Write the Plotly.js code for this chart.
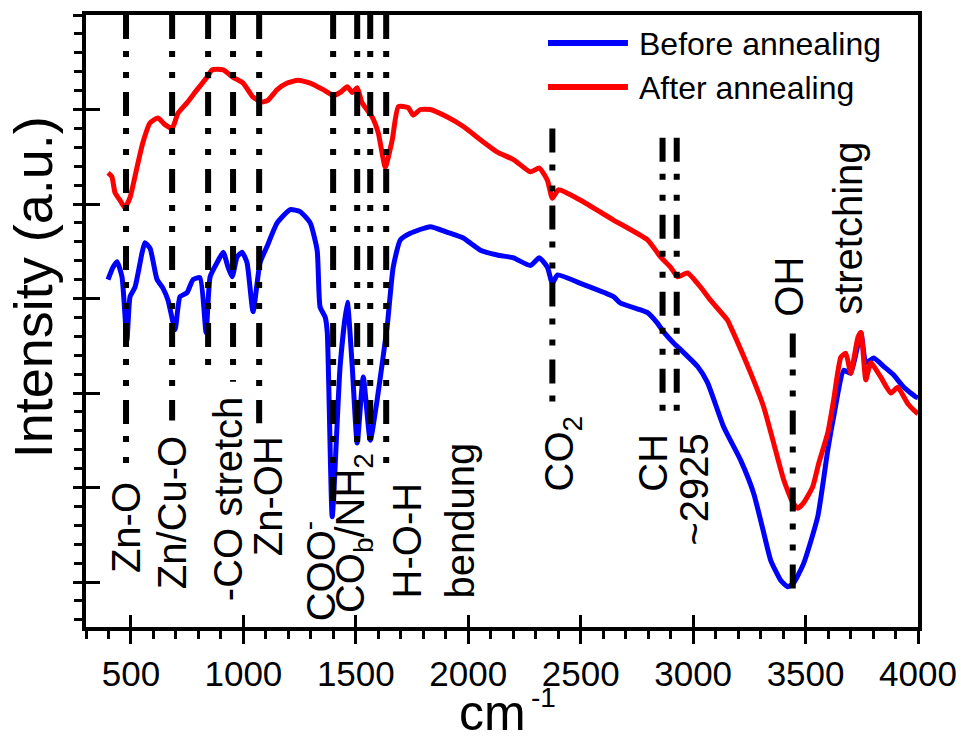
<!DOCTYPE html>
<html>
<head>
<meta charset="utf-8">
<script src="https://cdn.plot.ly/plotly-3.0.1.min.js"></script>
<style>html,body{margin:0;padding:0;background:#fff;}#chart{width:961px;height:740px;}</style>
</head>
<body>
<div id="chart"></div>
<script>
// ---- data (wavenumber in cm^-1, intensity in arbitrary units) ----
const wnBefore = [398,420,438,460,482,496,518,549,562,585,616,642,665,696,718,749,776,807,834,852,883,910,932,950,972,994,1016,1043,1074,1105,1150,1208,1252,1297,1328,1341,1364,1373,1395,1430,1462,1484,1506,1533,1564,1595,1640,1666,1698,1742,1831,1907,1978,2054,2129,2201,2276,2316,2352,2374,2397,2499,2646,2677,2766,2797,2841,2868,2913,2944,3020,3064,3136,3211,3269,3314,3345,3389,3421,3447,3492,3554,3599,3625,3670,3701,3746,3768,3803,3848,3892,3937,3990,4000];
const intBefore = [4.20,4.33,4.39,4.23,3.56,4.02,4.12,4.48,4.59,4.53,4.20,4.11,3.98,3.67,4.02,4.06,4.20,4.22,3.64,4.23,4.38,4.49,4.33,4.23,4.44,4.49,4.38,3.86,4.38,4.55,4.80,4.94,4.92,4.80,4.51,3.91,3.80,3.64,1.69,3.28,3.96,3.28,2.47,3.17,2.50,2.93,3.72,4.33,4.62,4.69,4.76,4.70,4.64,4.51,4.46,4.43,4.35,4.43,4.33,4.16,4.25,4.16,4.02,3.95,3.88,3.85,3.74,3.65,3.53,3.46,3.28,3.11,2.64,2.29,1.94,1.52,1.23,1.02,0.95,0.99,1.20,1.69,2.40,2.75,3.24,3.21,3.64,3.32,3.37,3.28,3.19,3.06,2.96,2.95];

const wnAfter = [398,415,429,451,473,496,527,553,585,620,651,683,709,749,794,838,861,910,954,999,1043,1083,1110,1150,1195,1243,1297,1355,1399,1430,1462,1484,1506,1528,1573,1600,1631,1662,1689,1733,1755,1787,1831,1907,1978,2054,2129,2201,2276,2316,2352,2374,2401,2499,2646,2797,2855,2900,2931,2975,3033,3078,3153,3167,3256,3314,3358,3403,3443,3465,3492,3532,3559,3599,3625,3657,3679,3701,3733,3746,3768,3790,3834,3879,3910,3954,3990,4000];
const intAfter = [5.33,5.29,5.12,5.04,4.96,5.07,5.39,5.65,5.86,5.91,5.84,5.80,5.96,6.07,6.21,6.34,6.42,6.42,6.34,6.28,6.13,6.08,6.10,6.21,6.28,6.31,6.28,6.21,6.15,6.18,6.24,6.18,6.23,6.07,5.92,5.75,5.39,5.68,6.03,6.02,5.94,6.00,6.00,5.92,5.82,5.68,5.55,5.47,5.34,5.38,5.25,5.06,5.15,5.04,4.83,4.62,4.44,4.33,4.23,4.27,4.12,3.98,3.77,3.70,3.21,2.85,2.47,2.08,1.84,1.78,1.84,2.01,2.26,2.58,2.93,3.38,3.42,3.21,3.59,3.64,3.14,3.32,3.17,3.00,3.06,2.89,2.80,2.78];

// band marker lines: position, top and bottom (intensity units)
const bandX      = [478,683,843,954,1070,1399,1506,1564,1635,2374,2864,2927,3443];
const bandTop    = [7.0,7.0,7.0,7.0,7.0,7.0,7.0,7.0,7.0,5.80,5.70,5.70,3.63];
const bandBottom = [2.26,2.71,3.14,3.12,2.68,1.73,2.43,2.50,2.15,2.80,2.71,2.71,0.84];

// band labels
const bandLabels = ['Zn-O','Zn/Cu-O','-CO stretch','Zn-OH','COO<sup>-</sup>','CO<sub>b</sub>/NH<sub>2</sub>','H-O-H','bendung','CO<sub>2</sub>','CH','~2925','OH','stretching'];
const labelX = [478,683,932,1110,1333,1488,1729,1965,2419,2820,3002,3425,3688];
const labelY = [1.571,1.730,1.878,1.910,1.116,1.519,1.444,1.656,2.365,2.259,1.974,4.122,4.746];

const seriesNames = ['Before annealing','After annealing'];
const xTicks = [500,1000,1500,2000,2500,3000,3500,4000];

const FONT = 'Liberation Sans, Arial, Helvetica, sans-serif';
const XR = [300, 4000], YR = [0.524, 7.0];

const traces = [
  {x: wnBefore, y: intBefore, mode:'lines', name: seriesNames[0], line:{color:'#0000ff', width:5, shape:'spline', smoothing:0.5}, hoverinfo:'skip'},
  {x: wnAfter, y: intAfter, mode:'lines', name: seriesNames[1], line:{color:'#ff0000', width:5, shape:'spline', smoothing:0.5}, hoverinfo:'skip'},
  {x:[null], y:[null], xaxis:'x2', yaxis:'y2', mode:'lines', showlegend:false, hoverinfo:'skip'}
];

const shapes = bandX.map((bx, i) => ({
  type:'line', xref:'x', yref:'y', x0:bx, x1:bx, y0:bandTop[i], y1:bandBottom[i],
  line:{color:'#000', width:6, dash:'24px,12px,6px,15px,6px,14px'}
}));
// manual legend
shapes.push({type:'line', xref:'paper', yref:'paper', x0:0.5553, x1:0.6514, y0:0.9542, y1:0.9542, line:{color:'#0000ff', width:6}});
shapes.push({type:'line', xref:'paper', yref:'paper', x0:0.5553, x1:0.6514, y0:0.8824, y1:0.8824, line:{color:'#ff0000', width:6}});

const annotations = bandLabels.map((t, i) => ({
  text:t, x:labelX[i], y:labelY[i], xref:'x', yref:'y', textangle:-90,
  showarrow:false, xanchor:'center', yanchor:'middle', font:{family:FONT, size:40, color:'#000'}
}));
annotations.push({text:seriesNames[0], xref:'paper', yref:'paper', x:0.6623, y:0.9526, xanchor:'left', yanchor:'middle', showarrow:false, font:{family:FONT, size:32, color:'#000'}});
annotations.push({text:seriesNames[1], xref:'paper', yref:'paper', x:0.6623, y:0.8807, xanchor:'left', yanchor:'middle', showarrow:false, font:{family:FONT, size:32, color:'#000'}});
annotations.push({text:'Intensity (a.u.)', xref:'paper', yref:'paper', x:-0.0637, y:0.555, textangle:-90, xanchor:'center', yanchor:'middle', showarrow:false, font:{family:FONT, size:54, color:'#000'}});
// x-axis title "cm^-1", the exponent set as its own smaller text
annotations.push({text:'cm', xref:'paper', yref:'paper', x:0.5313, y:-0.1405, xanchor:'right', yanchor:'middle', showarrow:false, font:{family:FONT, size:50, color:'#000'}});
annotations.push({text:'-1', xref:'paper', yref:'paper', x:0.5325, y:-0.116, xanchor:'left', yanchor:'middle', showarrow:false, font:{family:FONT, size:28, color:'#000'}});

const layout = {
  width:961, height:740,
  margin:{l:86, r:43, t:15, b:113, pad:0},
  paper_bgcolor:'#fff', plot_bgcolor:'#fff',
  showlegend:false,
  font:{family:FONT, color:'#000'},
  xaxis:{
    range:XR, tickmode:'array', tickvals:xTicks, ticktext:xTicks.map(String),
    ticks:'outside', ticklen:13, tickwidth:3, tickcolor:'#000',
    minor:{dtick:100, tick0:0, ticks:'outside', ticklen:8, tickwidth:3, tickcolor:'#000'},
    showline:true, linewidth:4, linecolor:'#000', mirror:true,
    showgrid:false, zeroline:false,
    tickfont:{family:FONT, size:35, color:'#000'}
  },
  yaxis:{
    range:YR, tick0:0, dtick:1, tickmode:'linear',
    ticks:'outside', ticklen:9, tickwidth:3, tickcolor:'#000',
    minor:{dtick:0.2, tick0:0, ticks:'outside', ticklen:8, tickwidth:3, tickcolor:'#000'},
    showticklabels:false,
    showline:true, linewidth:4, linecolor:'#000', mirror:true,
    showgrid:false, zeroline:false
  },
  xaxis2:{overlaying:'x', anchor:'y2', range:XR, tickmode:'array', tickvals:xTicks, ticks:'inside', ticklen:12, tickwidth:3, tickcolor:'#000', showticklabels:false, showline:false, showgrid:false, zeroline:false},
  yaxis2:{overlaying:'y', anchor:'x2', range:YR, tick0:0, dtick:1, tickmode:'linear', ticks:'inside', ticklen:14, tickwidth:3, tickcolor:'#000', showticklabels:false, showline:false, showgrid:false, zeroline:false},
  shapes:shapes,
  annotations:annotations
};

Plotly.newPlot('chart', traces, layout, {displayModeBar:false, staticPlot:true});
</script>
</body>
</html>
